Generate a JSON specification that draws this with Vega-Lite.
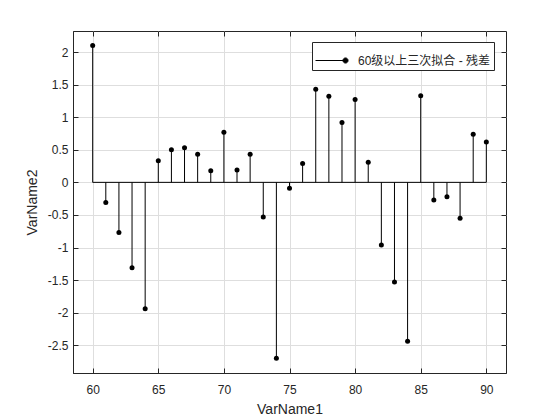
{
  "$schema": "https://vega.github.io/schema/vega-lite/v6.json",
  "width": 433,
  "height": 342,
  "autosize": "none",
  "padding": {"left": 73, "top": 31, "right": 54, "bottom": 47},
  "background": "white",
  "config": {
    "view": {"stroke": "#262626", "strokeWidth": 1},
    "font": "Liberation Sans",
    "axis": {
      "labelFont": "Liberation Sans",
      "titleFont": "Liberation Sans",
      "labelColor": "#262626",
      "titleColor": "#262626",
      "domainColor": "#262626",
      "tickColor": "#262626",
      "gridColor": "#dedede",
      "gridOpacity": 1,
      "labelFontSize": 12,
      "titleFontSize": 14,
      "titleFontWeight": "normal"
    }
  },
  "data": {
    "values": [
      {"x": 60, "y": 2.10, "s": "60级以上三次拟合 - 残差"},
      {"x": 61, "y": -0.31, "s": "60级以上三次拟合 - 残差"},
      {"x": 62, "y": -0.77, "s": "60级以上三次拟合 - 残差"},
      {"x": 63, "y": -1.31, "s": "60级以上三次拟合 - 残差"},
      {"x": 64, "y": -1.94, "s": "60级以上三次拟合 - 残差"},
      {"x": 65, "y": 0.33, "s": "60级以上三次拟合 - 残差"},
      {"x": 66, "y": 0.50, "s": "60级以上三次拟合 - 残差"},
      {"x": 67, "y": 0.53, "s": "60级以上三次拟合 - 残差"},
      {"x": 68, "y": 0.43, "s": "60级以上三次拟合 - 残差"},
      {"x": 69, "y": 0.18, "s": "60级以上三次拟合 - 残差"},
      {"x": 70, "y": 0.77, "s": "60级以上三次拟合 - 残差"},
      {"x": 71, "y": 0.19, "s": "60级以上三次拟合 - 残差"},
      {"x": 72, "y": 0.43, "s": "60级以上三次拟合 - 残差"},
      {"x": 73, "y": -0.53, "s": "60级以上三次拟合 - 残差"},
      {"x": 74, "y": -2.70, "s": "60级以上三次拟合 - 残差"},
      {"x": 75, "y": -0.09, "s": "60级以上三次拟合 - 残差"},
      {"x": 76, "y": 0.29, "s": "60级以上三次拟合 - 残差"},
      {"x": 77, "y": 1.43, "s": "60级以上三次拟合 - 残差"},
      {"x": 78, "y": 1.32, "s": "60级以上三次拟合 - 残差"},
      {"x": 79, "y": 0.92, "s": "60级以上三次拟合 - 残差"},
      {"x": 80, "y": 1.27, "s": "60级以上三次拟合 - 残差"},
      {"x": 81, "y": 0.31, "s": "60级以上三次拟合 - 残差"},
      {"x": 82, "y": -0.96, "s": "60级以上三次拟合 - 残差"},
      {"x": 83, "y": -1.53, "s": "60级以上三次拟合 - 残差"},
      {"x": 84, "y": -2.44, "s": "60级以上三次拟合 - 残差"},
      {"x": 85, "y": 1.33, "s": "60级以上三次拟合 - 残差"},
      {"x": 86, "y": -0.27, "s": "60级以上三次拟合 - 残差"},
      {"x": 87, "y": -0.22, "s": "60级以上三次拟合 - 残差"},
      {"x": 88, "y": -0.55, "s": "60级以上三次拟合 - 残差"},
      {"x": 89, "y": 0.74, "s": "60级以上三次拟合 - 残差"},
      {"x": 90, "y": 0.62, "s": "60级以上三次拟合 - 残差"}
    ]
  },
  "resolve": {"axis": {"x": "independent", "y": "independent"}},
  "layer": [
    {
      "mark": {"type": "rule", "color": "black", "strokeWidth": 1},
      "encoding": {
        "x": {"field": "x", "type": "quantitative", "scale": {"domain": [58.5, 91.5], "nice": false, "zero": false},
          "axis": {"title": "VarName1", "values": [60, 65, 70, 75, 80, 85, 90], "grid": true, "tickSize": -5, "labelPadding": 16, "titlePadding": 7}},
        "y": {"field": "y", "type": "quantitative", "scale": {"domain": [-2.926, 2.323], "nice": false, "zero": false},
          "axis": {"title": "VarName2", "format": "~g", "labelExpr": "replace(datum.label, '−', '-')", "values": [-2.5, -2, -1.5, -1, -0.5, 0, 0.5, 1, 1.5, 2], "grid": true, "tickSize": -5, "labelPadding": 10, "titlePadding": 8}},
        "y2": {"datum": 0}
      }
    },
    {
      "mark": {"type": "rule", "color": "black", "strokeWidth": 1},
      "encoding": {
        "x": {"field": "x", "type": "quantitative", "aggregate": "min", "scale": {"domain": [58.5, 91.5], "nice": false, "zero": false},
          "axis": {"orient": "top", "title": null, "labels": false, "grid": false, "domain": false, "values": [60, 65, 70, 75, 80, 85, 90], "tickSize": -5}},
        "x2": {"field": "x", "aggregate": "max"},
        "y": {"datum": 0, "type": "quantitative", "scale": {"domain": [-2.926, 2.323], "nice": false, "zero": false},
          "axis": {"orient": "right", "title": null, "labels": false, "grid": false, "domain": false, "values": [-2.5, -2, -1.5, -1, -0.5, 0, 0.5, 1, 1.5, 2], "tickSize": -5}}
      }
    },
    {
      "mark": {"type": "point", "filled": true, "size": 25, "opacity": 1, "shape": "circle"},
      "encoding": {
        "x": {"field": "x", "type": "quantitative", "axis": null},
        "y": {"field": "y", "type": "quantitative", "axis": null},
        "color": {"field": "s", "type": "nominal", "scale": {"range": ["black"]},
          "legend": {"title": null, "orient": "none", "legendX": 239, "legendY": 11,
            "strokeColor": "#262626", "fillColor": "white", "padding": 3,
            "symbolType": "M-1,0L1,0M0.83,0a0.17,0.17 0 1,0 0.34,0a0.17,0.17 0 1,0 -0.34,0",
            "symbolSize": 900, "symbolStrokeWidth": 1, "symbolFillColor": "black", "symbolStrokeColor": "black",
            "labelFont": "Liberation Sans, Noto Sans CJK SC", "labelFontSize": 12, "labelColor": "#262626", "labelOffset": 12}}
      }
    }
  ]
}
